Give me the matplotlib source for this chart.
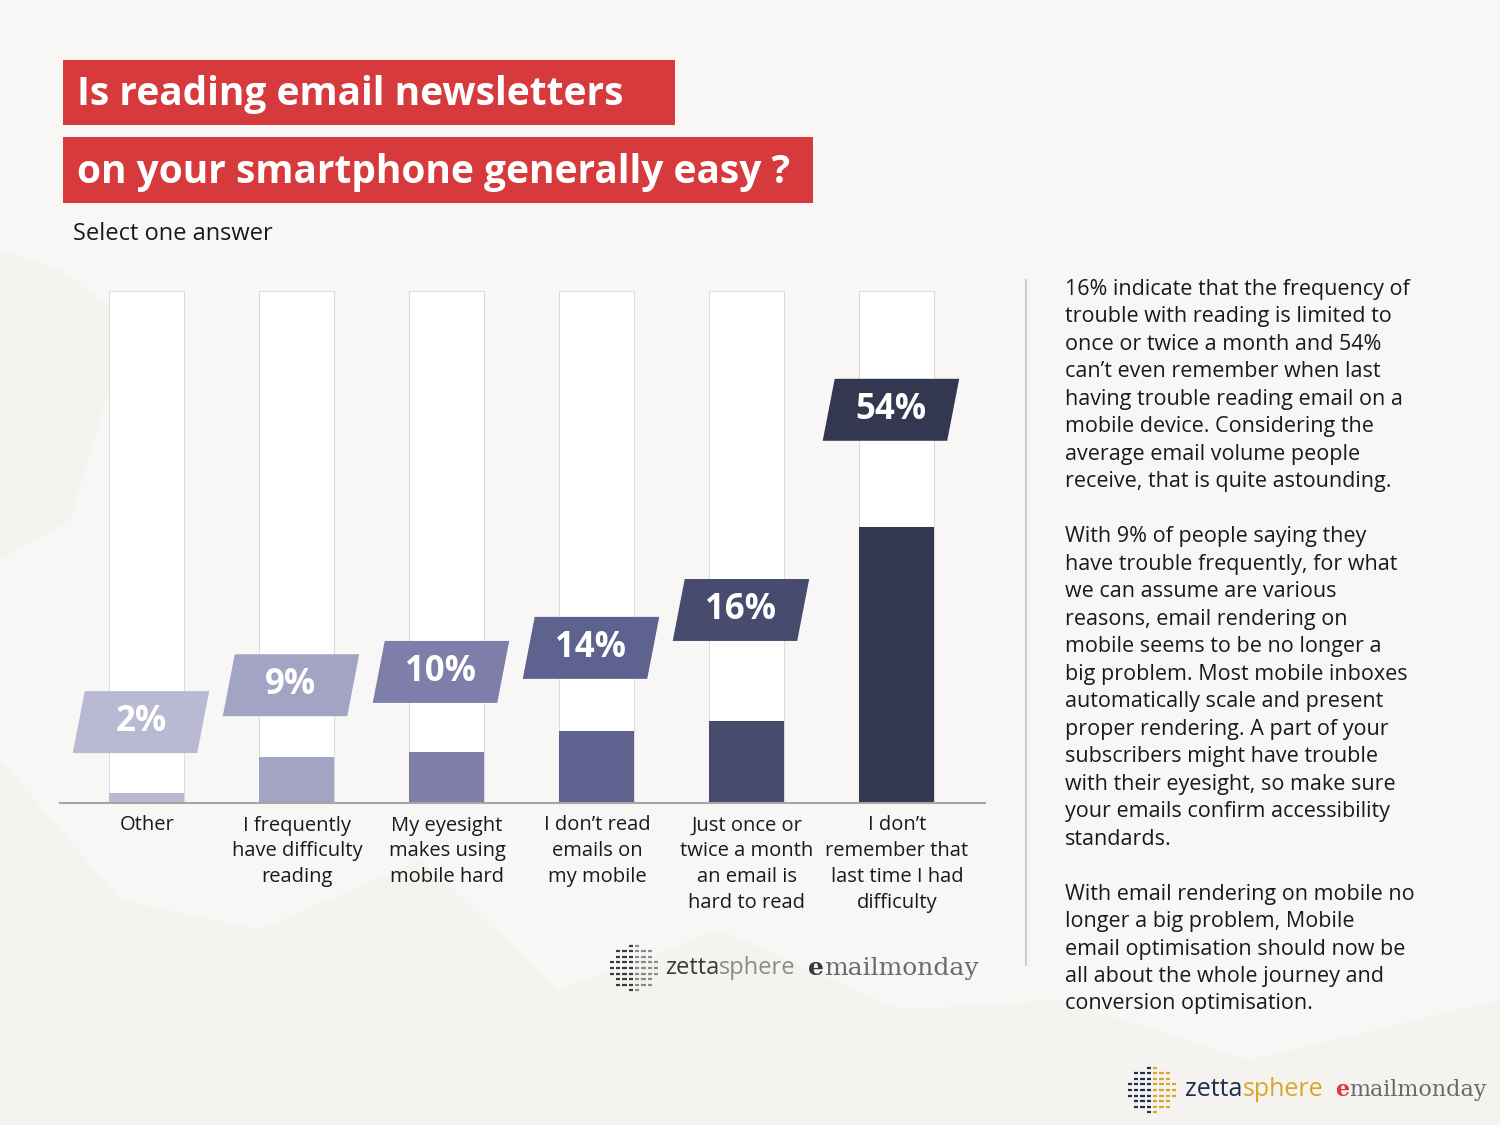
import matplotlib
matplotlib.use("Agg")
import matplotlib.pyplot as plt
import numpy as np
from matplotlib.patches import Polygon, Rectangle

# survey answers
categories = [
    "Other",
    "I frequently\nhave difficulty\nreading",
    "My eyesight\nmakes using\nmobile hard",
    "I don\u2019t read\nemails on\nmy mobile",
    "Just once or\ntwice a month\nan email is\nhard to read",
    "I don\u2019t\nremember that\nlast time I had\ndifficulty",
]
shares = [2, 9, 10, 14, 16, 54]
share_labels = ["2%", "9%", "10%", "14%", "16%", "54%"]

bar_colors = ["#b9b9d4", "#a3a3c3", "#7f7eaa", "#5e628f", "#474b6e", "#333750"]
label_lift = [13.8, 14.0, 15.6, 16.3, 21.7, 22.8]  # how far the tag floats above the bar

title_lines = ["Is reading email newsletters", "on your smartphone generally easy ?"]
subtitle = "Select one answer"
side_text = (
    "16% indicate that the frequency of\n"
    "trouble with reading is limited to\n"
    "once or twice a month and 54%\n"
    "can\u2019t even remember when last\n"
    "having trouble reading email on a\n"
    "mobile device. Considering the\n"
    "average email volume people\n"
    "receive, that is quite astounding.\n"
    "\n"
    "With 9% of people saying they\n"
    "have trouble frequently, for what\n"
    "we can assume are various\n"
    "reasons, email rendering on\n"
    "mobile seems to be no longer a\n"
    "big problem. Most mobile inboxes\n"
    "automatically scale and present\n"
    "proper rendering. A part of your\n"
    "subscribers might have trouble\n"
    "with their eyesight, so make sure\n"
    "your emails confirm accessibility\n"
    "standards.\n"
    "\n"
    "With email rendering on mobile no\n"
    "longer a big problem, Mobile\n"
    "email optimisation should now be\n"
    "all about the whole journey and\n"
    "conversion optimisation."
)

W, H = 1500, 1125
BG = "#f8f7f5"
RED = "#d63a3c"
FONT = "Open Sans"


def fx(px):
    return px / W


def fy(py):
    return 1 - py / H


def draw_globe(fig, cx, cy, r, left_color, right_color):
    # little dashes arranged inside a circle, like the logo sphere
    ax = fig.add_axes([fx(cx - r), fy(cy + r), fx(2 * r), (2 * r) / H], zorder=5)
    ax.set_xlim(-1, 1)
    ax.set_ylim(-1, 1)
    ax.axis("off")
    for yy in np.linspace(-0.85, 0.85, 9):
        for xx in np.linspace(-0.85, 0.85, 8):
            if xx ** 2 + yy ** 2 < 0.85:
                c = left_color if xx < 0.1 else right_color
                ax.plot([xx - 0.08, xx + 0.08], [yy, yy], color=c, lw=1.6,
                        solid_capstyle="butt")


def draw_logo(fig, x, y, gx, zetta_col, sphere_col, e_col, mail_col, size, serif_size):
    draw_globe(fig, gx, y, 26, zetta_col, sphere_col)
    t = fig.text(fx(x), fy(y), "zetta", color=zetta_col, fontsize=size,
                 family="Open Sans", va="center", ha="left")
    fig.canvas.draw()
    bb = t.get_window_extent()
    t2 = fig.text(bb.x1 / W, fy(y), "sphere", color=sphere_col, fontsize=size,
                  family="Open Sans", va="center", ha="left")
    bb2 = t2.get_window_extent()
    t3 = fig.text(bb2.x1 / W + fx(12), fy(y), "e", color=e_col, fontsize=serif_size,
                  family="DejaVu Serif", va="center", ha="left", weight="bold")
    bb3 = t3.get_window_extent()
    fig.text(bb3.x1 / W, fy(y), "mailmonday", color=mail_col, fontsize=serif_size,
             family="DejaVu Serif", va="center", ha="left")


fig = plt.figure(figsize=(15, 11.25), dpi=100)
fig.patch.set_facecolor(BG)

# faint mountain backdrop, behind everything
bg = fig.add_axes([0, 0, 1, 1], zorder=-10)
bg.set_xlim(0, W)
bg.set_ylim(H, 0)
bg.axis("off")
bg.add_patch(Polygon([(0, 1125), (0, 760), (120, 900), (260, 930), (420, 860), (560, 990),
                      (720, 930), (900, 1010), (1060, 1000), (1250, 1060), (1500, 1000),
                      (1500, 1125)], closed=True, facecolor="#f5f3f0", edgecolor="none"))
bg.add_patch(Polygon([(0, 250), (60, 270), (130, 320), (70, 520), (0, 560)],
                     closed=True, facecolor="#f5f3f0", edgecolor="none"))

# title boxes
bg.add_patch(Rectangle((63, 60), 612, 65, facecolor=RED, edgecolor="none"))
bg.add_patch(Rectangle((63, 137), 750, 66, facecolor=RED, edgecolor="none"))
fig.text(fx(77), fy(95), title_lines[0], color="white", fontsize=28, weight="bold",
         family=FONT, va="center", ha="left")
fig.text(fx(77), fy(173), title_lines[1], color="white", fontsize=28, weight="bold",
         family=FONT, va="center", ha="left")
fig.text(fx(73), fy(234), subtitle, color="#1a1a1a", fontsize=17, family=FONT,
         va="center", ha="left")

# bar chart
ax = fig.add_axes([fx(60), fy(803), fx(925), 512 / H])
ax.set_facecolor("none")
x = np.arange(len(shares))
ax.bar(x, [100] * len(shares), width=0.5, color="white", edgecolor="#dcdcdc", linewidth=0.8)
ax.bar(x, shares, width=0.5, color=bar_colors, edgecolor="none")
ax.set_xlim(-0.58, 5.587)
ax.set_ylim(0, 100)

box_w = 0.83
slant = 0.04
box_h = 12.1
for xi, v, lab, col, lift in zip(x, shares, share_labels, bar_colors, label_lift):
    cx = xi - 0.04
    cy = v + lift
    pts = [(cx - box_w / 2 - slant, cy - box_h / 2), (cx + box_w / 2 - slant, cy - box_h / 2),
           (cx + box_w / 2 + slant, cy + box_h / 2), (cx - box_w / 2 + slant, cy + box_h / 2)]
    ax.add_patch(Polygon(pts, closed=True, facecolor=col, edgecolor="none", clip_on=False))
    ax.text(cx, cy, lab, color="white", fontsize=25, weight="bold", family="Open Sans",
            ha="center", va="center")

for s in ["top", "right", "left"]:
    ax.spines[s].set_visible(False)
ax.spines["bottom"].set_color("#a6a6a6")
ax.spines["bottom"].set_linewidth(1.5)
ax.set_yticks([])
ax.set_xticks(x)
ax.set_xticklabels(categories, fontsize=14.5, family=FONT, color="#1a1a1a", linespacing=1.38)
ax.tick_params(axis="x", length=0, pad=9)

# separator line and commentary
fig.add_artist(plt.Line2D([fx(1026), fx(1026)], [fy(280), fy(965)], color="#cfcfcf", lw=1.5))
fig.text(fx(1065), fy(279), side_text, color="#1a1a1a", fontsize=15.5, family=FONT,
         va="top", ha="left", linespacing=1.405)

# logos
draw_logo(fig, 665, 968, 634, "#3a3a3a", "#8a8a8a", "#3a3a3a", "#6a6a6a", 17, 18)
draw_logo(fig, 1185, 1090, 1152, "#1f2f52", "#d9a62a", "#d63a3c", "#6a6a6a", 18, 16)

fig.savefig("out.png", dpi=100, facecolor=BG)
